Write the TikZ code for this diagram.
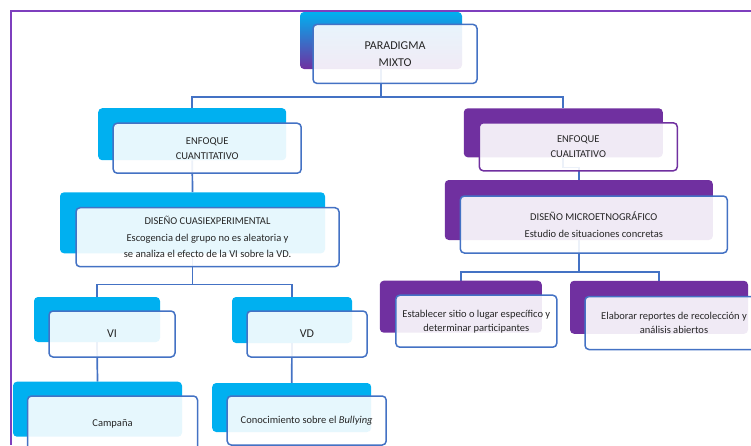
\documentclass[tikz,border=0pt]{standalone}
\usepackage{fontspec}
\setmainfont{Carlito}
\usetikzlibrary{calc}
\definecolor{celeste}{HTML}{00B0F0}
\definecolor{morado}{HTML}{7030A0}
\definecolor{azulborde}{HTML}{4472C4}
\definecolor{azulmedio}{HTML}{2F5FC0}
\definecolor{marcomorado}{HTML}{7E3FBE}
\definecolor{texto}{HTML}{262626}
\pgfdeclarelayer{fondo}
\pgfsetlayers{fondo,main}
\tikzset{fondoceleste/.style={
    rectangle, rounded corners=4pt,
    fill=celeste}}
\tikzset{fondomorado/.style={
    rectangle, rounded corners=4pt,
    fill=morado}}
\tikzset{frente/.style={
    rectangle, rounded corners=4pt,
    draw=azulborde, line width=1.5pt,
    fill=white, fill opacity=0.9, text opacity=1,
    text=texto, align=center,
    font=\fontsize{10.5}{15}\selectfont}}
\tikzset{conector/.style={
    draw=azulborde, line width=1.7pt}}

\begin{document}
\begin{tikzpicture}[x=1pt,y=-1pt]
\useasboundingbox (0,0) rectangle (751,445);
\coordinate (marcoA) at (751,11);
\coordinate (marcoB) at (11,11);
\coordinate (marcoC) at (11,445);
\draw[marcomorado, line width=1.8pt] (marcoA) -- (marcoB) -- (marcoC);

% fondos
\node[rectangle, rounded corners=4pt, top color=celeste, middle color=azulmedio,
  bottom color=morado, minimum width=162pt, minimum height=57pt] (bparadigma) at (381,40.5) {};
\node[fondoceleste, minimum width=188pt, minimum height=52pt] (bcuanti) at (192.2,134.2) {};
\node[fondomorado, minimum width=199pt, minimum height=49pt] (bcuali) at (563.3,132.8) {};
\node[fondoceleste, minimum width=265pt, minimum height=61pt] (bcuasi) at (192.5,222.8) {};
\node[fondomorado, minimum width=268pt, minimum height=60pt] (bmicro) at (578.8,210) {};
\node[fondoceleste, minimum width=126pt, minimum height=45pt] (bvi) at (97,319.5) {};
\node[fondoceleste, minimum width=120pt, minimum height=46pt] (bvd) at (292,320) {};
\node[fondoceleste, minimum width=169pt, minimum height=55pt] (bcamp) at (97.5,409.2) {};
\node[fondoceleste, minimum width=159pt, minimum height=49pt] (bcono) at (291.7,407.5) {};
\node[fondomorado, minimum width=162pt, minimum height=52pt] (bestab) at (460.8,306.7) {};
\node[fondomorado, minimum width=178pt, minimum height=53pt] (belab) at (659,307.3) {};

% cajas
\node[frente, minimum width=164pt, minimum height=59pt, font=\fontsize{12}{17.5}\selectfont]
  (fparadigma) at ($(bparadigma)+(14,13.4)$) {PARADIGMA\\MIXTO};
\node[frente, minimum width=188pt, minimum height=50pt] (fcuanti) at ($(bcuanti)+(15,14)$) {ENFOQUE\\CUANTITATIVO};
\node[frente, draw=morado, minimum width=198pt, minimum height=48pt] (fcuali) at ($(bcuali)+(15,14)$) {ENFOQUE\\CUALITATIVO};
\node[frente, minimum width=263pt, minimum height=59pt, font=\fontsize{10.5}{16.5}\selectfont]
  (fcuasi) at ($(bcuasi)+(15,14.4)$) {DISEÑO CUASIEXPERIMENTAL\\Escogencia del grupo no es aleatoria y\\se analiza el efecto de la VI sobre la VD.};
\node[frente, minimum width=267pt, minimum height=57pt, font=\fontsize{10.5}{17.5}\selectfont]
  (fmicro) at ($(bmicro)+(15,14.5)$) {DISEÑO MICROETNOGRÁFICO\\Estudio de situaciones concretas};
\node[frente, minimum width=126pt, minimum height=46pt, font=\fontsize{12}{14}\selectfont] (fvi) at ($(bvi)+(15,14.5)$) {VI};
\node[frente, minimum width=120pt, minimum height=46pt, font=\fontsize{12}{14}\selectfont] (fvd) at ($(bvd)+(15,14)$) {VD};
\node[frente, minimum width=170pt, minimum height=56pt] (fcamp) at ($(bcamp)+(15,14.8)$) {Campaña};
\node[frente, minimum width=159pt, minimum height=49pt] (fcono) at ($(bcono)+(15,13)$) {Conocimiento sobre el \textit{Bullying}};
\node[frente, minimum width=161pt, minimum height=52pt, font=\fontsize{10.5}{14}\selectfont]
  (festab) at ($(bestab)+(15.5,14.5)$) {Establecer sitio o lugar específico y\\determinar participantes};
\node[frente, minimum width=178pt, minimum height=53pt, font=\fontsize{10.5}{14}\selectfont]
  (felab) at ($(belab)+(15,15.7)$) {Elaborar reportes de recolección y\\análisis abiertos};

% conectores
\begin{pgfonlayer}{fondo}
\draw[conector] (bparadigma.south) -- ++(0,28) -| (bcuanti.north);
\draw[conector] (bparadigma.south) -- ++(0,28) -| (bcuali.north);
\draw[conector] (bcuanti.south) -- (bcuasi.north);
\draw[conector] (bcuali.south) -- ++(0,10) -| (bmicro.north);
\draw[conector] (bcuasi.south) -- ++(0,31) -| (bvi.north);
\draw[conector] (bcuasi.south) -- ++(0,31) -| (bvd.north);
\draw[conector] (bmicro.south) -- ++(0,32) -| (bestab.north);
\draw[conector] (bmicro.south) -- ++(0,32) -| (belab.north);
\draw[conector] (bvi.south) -- (bcamp.north);
\draw[conector] (bvd.south) -- (bcono.north);
\end{pgfonlayer}
\end{tikzpicture}
\end{document}
